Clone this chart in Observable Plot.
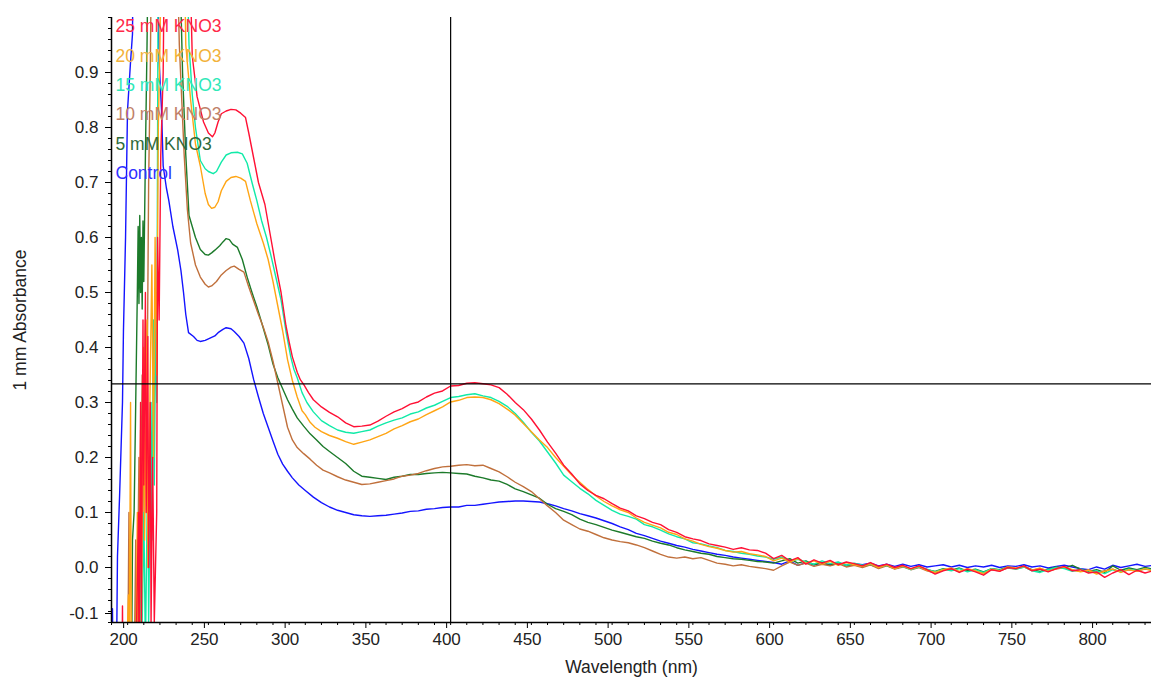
<!DOCTYPE html>
<html><head><meta charset="utf-8">
<script src="https://cdn.jsdelivr.net/npm/d3@7"></script>
<script src="https://cdn.jsdelivr.net/npm/@observablehq/plot@0.6"></script>
<style>body{margin:0;background:#fff;overflow:hidden}</style>
</head><body><div id="chart"></div>
<script>
// Absorbance spectra: [wavelength nm, absorbance]
const control = [[190.3,-0.2],[190.6,-0.075],[191,-0.2],[193,-0.2],[193.7,0.02],[195,0.13],[196.8,0.3],[197.4,0.43],[198.7,0.6],[199.9,0.83],[201.8,0.92],[203,0.97],[203.6,1.2],[218,1.2],[219.5,0.92],[221,0.83],[222,0.73],[224,0.69],[225.5,0.667],[228,0.62],[231,0.577],[233,0.54],[234.6,0.5],[236,0.46],[237.7,0.427],[240.8,0.42],[243,0.413],[245,0.411],[248,0.413],[251,0.417],[254,0.421],[256,0.427],[259,0.433],[261,0.436],[264,0.434],[266,0.429],[269,0.42],[272,0.408],[275,0.38],[278,0.342],[281,0.31],[284,0.28],[287,0.255],[290,0.23],[293,0.206],[296,0.188],[299,0.175],[302,0.163],[306,0.15],[310,0.14],[315,0.128],[320,0.118],[325,0.11],[330,0.104],[335,0.1],[340,0.096],[345,0.094],[350,0.093],[355,0.094],[360,0.095],[365,0.097],[370,0.099],[375,0.102],[380,0.103],[385,0.106],[390,0.107],[395,0.109],[400,0.11],[405,0.11],[410,0.113],[415,0.113],[420,0.115],[425,0.117],[430,0.119],[435,0.12],[440,0.121],[445,0.121],[450,0.12],[455,0.119],[460,0.116],[465,0.112],[470,0.107],[475,0.103],[480,0.098],[485,0.094],[490,0.09],[495,0.085],[500,0.08],[505,0.074],[510,0.069],[515,0.062],[520,0.058],[525,0.053],[530,0.048],[535,0.044],[540,0.04],[545,0.037],[550,0.033],[555,0.03],[560,0.027],[565,0.024],[570,0.022],[575,0.019],[580,0.017],[585,0.015],[590,0.013],[595,0.011],[600,0.009],[605,0.006],[610,0.012],[615,0.004],[620,0.009],[625,0.005],[630,0.008],[635,0.005],[640,0.009],[645,0.004],[650,0.007],[655,0.005],[660,0.008],[665,0.003],[670,0.006],[675,0.002],[680,0.006],[685,0.002],[690,0.005],[695,0.001],[700,0.003],[705,0.005],[710,0.001],[715,0.004],[720,0.0],[725,0.003],[730,0.001],[735,0.004],[740,0.0],[745,0.003],[750,0.002],[755,0.005],[760,0.001],[765,0.003],[770,-0.001],[775,0.002],[780,0.004],[785,0.001],[790,-0.002],[795,-0.004],[800,0.001],[805,-0.003],[810,0.004],[815,0.0],[820,0.003],[825,0.006],[830,0.002],[835,0.004]];

const kno3_5 = [[198,-0.2],[201,-0.12],[202,-0.2],[202.4,-0.2],[203,0.05],[204,0.1],[205,0.3],[206,0.5],[206.5,0.62],[207,0.48],[207.5,0.64],[208,0.5],[208.5,0.6],[209,0.47],[209.5,0.63],[210,0.52],[211,0.75],[212,0.95],[213,1.2],[231.5,1.2],[234,0.9],[236,0.75],[238,0.64],[240,0.62],[242,0.6],[245,0.578],[248,0.569],[250,0.568],[252,0.572],[254,0.577],[257,0.585],[259,0.592],[261,0.598],[263,0.596],[265,0.588],[268,0.582],[271,0.56],[274,0.528],[277,0.5],[280,0.474],[283,0.445],[287,0.405],[290,0.37],[293,0.345],[296,0.325],[299,0.305],[302,0.288],[305,0.272],[309,0.257],[313,0.243],[317,0.232],[321,0.22],[325,0.211],[330,0.2],[335,0.189],[340,0.175],[345,0.166],[350,0.164],[355,0.162],[360,0.16],[365,0.164],[370,0.166],[375,0.169],[380,0.169],[385,0.171],[390,0.172],[395,0.173],[400,0.172],[405,0.171],[410,0.17],[415,0.166],[420,0.163],[425,0.159],[430,0.157],[435,0.151],[440,0.143],[445,0.138],[450,0.132],[455,0.126],[460,0.115],[465,0.107],[470,0.102],[475,0.096],[480,0.088],[485,0.082],[490,0.078],[495,0.073],[500,0.068],[505,0.064],[510,0.06],[515,0.056],[520,0.053],[525,0.048],[530,0.044],[535,0.041],[540,0.036],[545,0.032],[550,0.029],[555,0.026],[560,0.024],[565,0.02],[570,0.018],[575,0.016],[580,0.015],[585,0.013],[590,0.011],[595,0.01],[600,0.008],[605,0.012],[610,0.016],[615,0.008],[620,0.012],[625,0.005],[630,0.009],[635,0.004],[640,0.008],[645,0.003],[650,0.006],[655,0.002],[660,0.005],[665,0.0],[670,0.004],[675,-0.002],[680,0.002],[685,-0.003],[690,0.001],[695,-0.004],[700,-0.007],[705,-0.002],[710,-0.005],[715,-0.001],[720,-0.006],[725,-0.003],[730,-0.008],[735,-0.002],[740,-0.004],[745,0.001],[750,-0.002],[755,0.002],[760,-0.004],[765,-0.007],[770,-0.003],[775,0.001],[780,-0.001],[785,0.004],[790,-0.003],[795,-0.007],[800,-0.004],[805,-0.009],[810,0.003],[815,-0.005],[820,-0.001],[825,-0.004],[830,0.0],[835,-0.003]];

const kno3_10 = [[200,-0.2],[200.8,0.1],[201.3,-0.2],[204,-0.2],[205,0.05],[205.5,-0.2],[207,0.2],[207.5,-0.05],[209,0.35],[209.5,0.1],[211,0.45],[212,0.3],[213,0.7],[214,0.9],[215,1.2],[230,1.2],[232,0.95],[235,0.75],[237,0.65],[239,0.59],[242,0.55],[245,0.528],[248,0.515],[250,0.51],[252,0.512],[255,0.52],[258,0.532],[261,0.54],[264,0.546],[266,0.548],[269,0.542],[272,0.537],[275,0.51],[278,0.485],[281,0.46],[284,0.437],[287,0.41],[290,0.375],[293,0.335],[296,0.295],[299,0.255],[302,0.232],[305,0.218],[309,0.207],[313,0.197],[317,0.186],[321,0.177],[325,0.172],[330,0.165],[335,0.159],[340,0.155],[345,0.151],[350,0.152],[355,0.155],[360,0.158],[365,0.161],[370,0.166],[375,0.168],[380,0.171],[385,0.176],[390,0.18],[395,0.183],[400,0.184],[405,0.186],[410,0.187],[415,0.185],[420,0.186],[425,0.18],[430,0.174],[435,0.165],[440,0.155],[445,0.147],[450,0.138],[455,0.125],[460,0.112],[465,0.1],[470,0.086],[475,0.078],[480,0.07],[485,0.066],[490,0.06],[495,0.054],[500,0.05],[505,0.047],[510,0.045],[515,0.041],[520,0.036],[525,0.03],[530,0.024],[535,0.019],[540,0.017],[545,0.019],[550,0.016],[555,0.018],[560,0.013],[565,0.008],[570,0.006],[575,0.003],[580,0.005],[585,0.002],[590,0.0],[595,-0.002],[600,-0.005],[605,0.003],[610,0.01],[615,0.004],[620,0.008],[625,0.002],[630,0.006],[635,0.003],[640,0.007],[645,0.001],[650,0.004],[655,0.0],[660,0.005],[665,-0.002],[670,0.003],[675,-0.003],[680,0.001],[685,-0.004],[690,0.0],[695,-0.006],[700,-0.01],[705,-0.005],[710,-0.002],[715,-0.008],[720,-0.003],[725,-0.007],[730,-0.01],[735,-0.004],[740,-0.006],[745,-0.001],[750,-0.003],[755,0.001],[760,-0.005],[765,-0.002],[770,-0.006],[775,-0.003],[780,0.0],[785,-0.005],[790,-0.007],[795,-0.004],[800,-0.01],[805,-0.006],[810,-0.003],[815,-0.008],[820,-0.004],[825,-0.006],[830,-0.003],[835,-0.005]];

const kno3_15 = [[205,-0.2],[207,-0.2],[208,0.05],[208.5,-0.2],[210,0.1],[211,-0.15],[212.5,0.2],[213,-0.1],[214.5,0.3],[215,0.05],[216,0.45],[216.5,0.15],[217.5,0.5],[218,0.3],[219,1.2],[236,1.2],[238,0.95],[240,0.86],[242,0.8],[245,0.74],[248,0.725],[250,0.72],[253,0.716],[255,0.72],[258,0.737],[261,0.75],[264,0.754],[268,0.755],[271,0.752],[274,0.735],[277,0.7],[280,0.667],[283,0.63],[286,0.6],[289,0.564],[292,0.525],[295,0.486],[298,0.43],[301,0.383],[303,0.36],[305,0.345],[308,0.318],[311,0.3],[315,0.283],[320,0.267],[325,0.258],[330,0.25],[335,0.246],[340,0.244],[345,0.247],[350,0.25],[355,0.257],[360,0.263],[365,0.268],[370,0.272],[375,0.279],[380,0.283],[385,0.29],[390,0.295],[395,0.302],[400,0.309],[405,0.311],[410,0.314],[415,0.316],[420,0.312],[425,0.309],[430,0.302],[435,0.293],[440,0.28],[445,0.264],[450,0.246],[455,0.23],[460,0.21],[465,0.19],[470,0.168],[475,0.156],[480,0.144],[485,0.134],[490,0.122],[495,0.113],[500,0.104],[505,0.097],[510,0.093],[515,0.088],[520,0.078],[525,0.074],[530,0.068],[535,0.061],[540,0.056],[545,0.052],[550,0.045],[555,0.043],[560,0.039],[565,0.036],[570,0.031],[575,0.029],[580,0.026],[585,0.024],[590,0.021],[595,0.019],[600,0.015],[605,0.019],[610,0.011],[615,0.015],[620,0.01],[625,0.006],[630,0.012],[635,0.007],[640,0.01],[645,0.004],[650,0.008],[655,0.004],[660,0.006],[665,0.001],[670,0.004],[675,-0.001],[680,0.002],[685,-0.004],[690,0.001],[695,-0.003],[700,-0.008],[705,-0.003],[710,-0.006],[715,-0.002],[720,-0.008],[725,-0.004],[730,-0.009],[735,-0.002],[740,-0.005],[745,0.0],[750,-0.003],[755,0.001],[760,-0.006],[765,-0.009],[770,-0.004],[775,0.0],[780,-0.002],[785,-0.007],[790,-0.003],[795,-0.009],[800,-0.006],[805,-0.011],[810,-0.004],[815,-0.008],[820,-0.003],[825,-0.006],[830,-0.002],[835,-0.005]];

const kno3_20 = [[199,-0.2],[200.5,-0.05],[201,-0.2],[201.8,0.3],[202.3,-0.2],[205,-0.2],[206,0.1],[206.5,-0.15],[208,0.25],[208.5,-0.1],[210,0.4],[210.5,0.05],[212,0.45],[212.5,0.0],[214,0.35],[215,0.55],[216,0.2],[217,0.6],[218,0.35],[219,0.8],[220,0.95],[221,1.2],[234.6,1.2],[236,0.95],[239,0.85],[242,0.77],[245,0.73],[248,0.68],[250,0.66],[252,0.653],[254,0.655],[256,0.665],[258,0.685],[261,0.702],[264,0.709],[267,0.711],[270,0.708],[273,0.702],[276,0.667],[280,0.625],[284,0.59],[287,0.56],[290,0.52],[293,0.475],[296,0.43],[299,0.378],[302,0.34],[305,0.31],[308,0.285],[310,0.278],[313,0.264],[316,0.255],[320,0.247],[325,0.24],[330,0.235],[335,0.229],[340,0.224],[345,0.228],[350,0.232],[355,0.238],[360,0.244],[365,0.252],[370,0.258],[375,0.265],[380,0.27],[385,0.278],[390,0.285],[395,0.292],[400,0.301],[405,0.304],[410,0.309],[415,0.31],[420,0.309],[425,0.305],[430,0.298],[435,0.288],[440,0.277],[445,0.262],[450,0.247],[455,0.232],[460,0.218],[465,0.2],[470,0.184],[475,0.168],[480,0.155],[485,0.142],[490,0.13],[495,0.12],[500,0.112],[505,0.105],[510,0.1],[515,0.09],[520,0.082],[525,0.077],[530,0.072],[535,0.064],[540,0.06],[545,0.052],[550,0.048],[555,0.042],[560,0.038],[565,0.035],[570,0.031],[575,0.028],[580,0.029],[585,0.025],[590,0.023],[595,0.02],[600,0.012],[605,0.017],[610,0.01],[615,0.016],[620,0.008],[625,0.012],[630,0.006],[635,0.011],[640,0.004],[645,0.009],[650,0.005],[655,0.002],[660,0.007],[665,0.0],[670,0.005],[675,-0.002],[680,0.003],[685,-0.003],[690,0.002],[695,-0.005],[700,-0.009],[705,-0.004],[710,-0.001],[715,-0.007],[720,-0.002],[725,-0.006],[730,-0.011],[735,-0.003],[740,-0.006],[745,0.001],[750,-0.001],[755,0.002],[760,-0.005],[765,-0.001],[770,-0.007],[775,-0.002],[780,0.001],[785,-0.004],[790,-0.008],[795,-0.005],[800,-0.012],[805,-0.007],[810,-0.003],[815,-0.009],[820,-0.004],[825,-0.007],[830,-0.002],[835,-0.006]];

const kno3_25 = [[196.5,-0.2],[196.8,-0.07],[197.1,-0.2],[205,-0.2],[206.7,0.1],[207,-0.2],[208,0.3],[208.5,-0.1],[209.5,0.45],[210,0.15],[211,0.5],[211.5,0.1],[212.5,0.42],[213,0.0],[214,0.3],[214.5,-0.1],[215.5,0.2],[216.5,-0.1],[218,0.1],[218.5,0.6],[219.5,0.45],[220.5,0.75],[222,0.9],[223,1.2],[237.7,1.2],[240,0.93],[243,0.856],[247,0.81],[250,0.79],[252.5,0.783],[254,0.79],[256,0.81],[258,0.825],[261,0.83],[264,0.833],[267,0.832],[270,0.826],[273,0.818],[275,0.79],[278,0.745],[281,0.7],[285,0.66],[288,0.61],[291,0.56],[295,0.5],[298,0.44],[300,0.41],[302,0.383],[305,0.355],[307,0.341],[309,0.333],[312,0.318],[315,0.305],[320,0.292],[325,0.282],[330,0.274],[335,0.263],[340,0.256],[345,0.257],[350,0.259],[355,0.266],[360,0.275],[365,0.283],[370,0.289],[375,0.297],[380,0.301],[385,0.31],[390,0.317],[395,0.321],[400,0.33],[405,0.331],[410,0.335],[415,0.336],[420,0.334],[425,0.332],[430,0.327],[435,0.315],[440,0.3],[445,0.287],[450,0.27],[455,0.25],[460,0.228],[465,0.208],[470,0.186],[475,0.17],[480,0.152],[485,0.14],[490,0.131],[495,0.125],[500,0.116],[505,0.108],[510,0.103],[515,0.094],[520,0.089],[525,0.082],[530,0.078],[535,0.069],[540,0.064],[545,0.056],[550,0.052],[555,0.049],[560,0.043],[565,0.04],[570,0.037],[575,0.033],[580,0.036],[585,0.032],[590,0.031],[595,0.026],[600,0.016],[605,0.022],[610,0.012],[615,0.018],[620,0.006],[625,0.014],[630,0.008],[635,0.013],[640,0.005],[645,0.01],[650,0.007],[655,0.003],[660,0.009],[665,0.002],[670,0.006],[675,0.0],[680,0.004],[685,-0.002],[690,0.003],[695,-0.004],[700,-0.012],[705,-0.006],[710,-0.002],[715,-0.009],[720,-0.003],[725,-0.008],[730,-0.014],[735,-0.004],[740,-0.007],[745,0.0],[750,-0.002],[755,0.003],[760,-0.006],[765,-0.003],[770,-0.008],[775,-0.002],[780,0.002],[785,-0.006],[790,-0.004],[795,-0.01],[800,-0.008],[805,-0.018],[810,-0.01],[815,-0.004],[820,-0.013],[825,-0.005],[830,-0.01],[835,-0.006]];

const seriesNames = ["25 mM KNO3","20 mM KNO3","15 mM KNO3","10 mM KNO3","5 mM KNO3","Control"];
const lineColors  = ["#ff1034","#ffa514","#10eaa8","#c0703c","#1c7a2a","#1414ff"];
const textColors  = ["#ff2848","#f2b23a","#30e8b8","#c08068","#2e6a3a","#3030ff"];
const seriesData  = [kno3_25, kno3_20, kno3_15, kno3_10, kno3_5, control];

const xTicks = [200,250,300,350,400,450,500,550,600,650,700,750,800];
const yTicks = [0.0,0.1,0.2,0.3,0.4,0.5,0.6,0.7,0.8,0.9];
const yBottomTick = [-0.1];
const xMinor = d3.range(190, 835, 10);
const yMinor = d3.range(-10, 101, 2).map(v => v / 100);
const cursorX = [400];
const cursorY = [0.334];

const font = "'Liberation Sans', Arial, sans-serif";
const marks = [];
// draw Control first, 25 mM last (on top)
for (let i = seriesData.length - 1; i >= 0; i--) {
  marks.push(Plot.line(seriesData[i], {x: d => d[0], y: d => d[1], stroke: lineColors[i], strokeWidth: 1.4, clip: true}));
}
marks.push(
  Plot.ruleX(cursorX, {stroke: "#000", strokeWidth: 1.2}),
  Plot.ruleY(cursorY, {stroke: "#000", strokeWidth: 1.2}),
  Plot.axisY(yMinor, {tickSize: 3, tickFormat: () => "", stroke: "#000"}),
  Plot.axisY(yTicks, {tickSize: 6, tickPadding: 7, tickFormat: d => d.toFixed(1), stroke: "#000", fill: "#222", fontSize: 17, label: null}),
  Plot.axisY(yBottomTick, {tickSize: 6, tickPadding: 7, tickFormat: d => d.toFixed(1), stroke: "#000", fill: "#222", fontSize: 17, dy: -9, label: null}),
  Plot.axisX(xMinor, {tickSize: 3, tickFormat: () => "", stroke: "#000"}),
  Plot.axisX(xTicks, {tickSize: 6, tickPadding: 4, tickFormat: d => String(d), stroke: "#000", fill: "#222", fontSize: 17, dx: -4, label: null}),
  Plot.ruleX([190], {stroke: "#000", strokeWidth: 1.5}),
  Plot.ruleY([-0.1], {stroke: "#000", strokeWidth: 1.5}),
  Plot.text(["Wavelength (nm)"], {frameAnchor: "bottom", textAnchor: "middle", lineAnchor: "middle", dy: 45, fill: "#222", fontSize: 17.5}),
  Plot.text(["1 mm Absorbance"], {frameAnchor: "left", textAnchor: "middle", lineAnchor: "middle", dx: -91, rotate: -90, fill: "#222", fontSize: 17.5})
);
seriesNames.forEach((name, i) => {
  marks.push(Plot.text([name], {frameAnchor: "top-left", textAnchor: "start", lineAnchor: "middle", dx: 4, dy: 9 + i * 29.4, fill: textColors[i], fontSize: 17.5}));
});

const chart = Plot.plot({
  width: 1151, height: 679,
  marginLeft: 111, marginRight: 0, marginTop: 17, marginBottom: 57,
  x: {domain: [190, 834]},
  y: {domain: [-0.1, 1.0]},
  style: {fontFamily: font, fontSize: "17px", color: "#222", background: "#fff"},
  marks
});
document.getElementById("chart").append(chart);
</script>
</body></html>
